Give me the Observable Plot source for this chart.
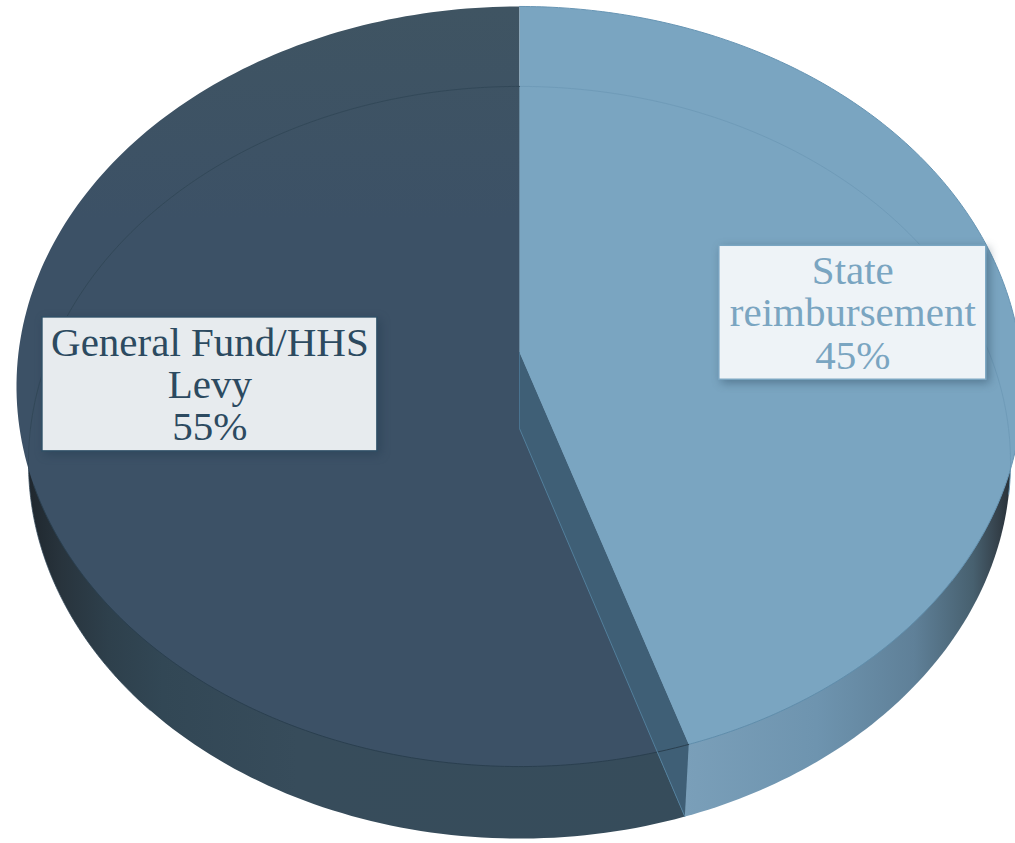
<!DOCTYPE html>
<html>
<head>
<meta charset="utf-8">
<script src="https://cdn.jsdelivr.net/npm/d3@7"></script>
<script src="https://cdn.jsdelivr.net/npm/@observablehq/plot@0.6"></script>
<style>html,body{margin:0;padding:0;background:#fff}svg{display:block}</style>
</head>
<body>
<div id="chart"></div>
<script>
const categories = ["State\nreimbursement", "General Fund/HHS\nLevy"];
const shares = [45, 55];
const shareLabels = ["45%", "55%"];

const W = 1015, H = 843;
const top3d = {cx: 519, cy: 352, a: 501, b: 377, k: -0.0895};
const low3d = {cx: 519, cy: 428, a: 489, b: 373, k: -0.0904};
const project = (e, deg, r = 1) => {
  const t = deg * Math.PI / 180, u = r * Math.sin(t), v = -r * Math.cos(t), d = 1 + e.k * v;
  return {x: e.cx + e.a * u / d, y: e.cy + e.b * v / d};
};
const arc = (e, a0, a1) => d3.range(0, 181).map((i) => project(e, a0 + (a1 - a0) * i / 180));
const total = d3.sum(shares);
const ends = d3.cumsum(shares).map((s) => s / total * 360);
const starts = [0, ...ends.slice(0, -1)];
const slice = (e, i) => [{x: e.cx, y: e.cy}, ...arc(e, starts[i], ends[i]), {x: e.cx, y: e.cy}];

const inks = ["#7aa5c1", "#2c4a60"];
const boxEdges = ["#7aa5c1", "#2f4f66"];
const boxFills = ["#eef3f7", "#e7ebee"];
const rims = ["#5f8dab", "#2a3f4f"];
const ghosts = ["#6f9bb8", "#324858"];

const face = [project(top3d, 0, 0), project(top3d, ends[0]), project(low3d, ends[0]), project(low3d, 0, 0), project(top3d, 0, 0)];

const labelPlacement = [{deg: 81, r: 0.68, w: 267, h: 134}, {deg: 262.2, r: 0.619, w: 335, h: 134}];
const labels = categories.map((c, i) => {
  const p = project(top3d, labelPlacement[i].deg, labelPlacement[i].r);
  return {text: `${c}\n${shareLabels[i]}`, x: p.x, y: p.y, w: labelPlacement[i].w, h: labelPlacement[i].h, i};
});

const poly = (pts, o) => Plot.line(pts, {x: "x", y: "y", curve: "linear", ...o});

const svg = Plot.plot({
  width: W, height: H,
  margin: 0,
  x: {domain: [0, W], range: [0, W], axis: null},
  y: {domain: [0, H], range: [0, H], axis: null},
  marks: [
    poly(slice(low3d, 0), {fill: "url(#wallLight)", stroke: "none"}),
    poly(slice(low3d, 1), {fill: "url(#wallDark)", stroke: "none"}),
    poly(slice(top3d, 1), {fill: "url(#topDark)", stroke: "none"}),
    poly(face, {fill: "#3f5f76", stroke: "none"}),
    poly(slice(top3d, 0), {fill: "#7aa5c1", stroke: "none"}),
    poly(arc(low3d, 0, 100), {stroke: ghosts[0], strokeWidth: 1}),
    poly(arc(low3d, 270, 360), {stroke: ghosts[1], strokeWidth: 1}),
    poly(arc(low3d, 225, 270), {stroke: ghosts[1], strokeWidth: 0.8}),
    poly(arc(top3d, 125, ends[0]), {stroke: rims[0], strokeWidth: 1}),
    poly(arc(top3d, ends[0], 250), {stroke: rims[1], strokeWidth: 1}),
    poly(arc(top3d, 0, 125), {stroke: "#6795b4", strokeWidth: 1}),
    poly([project(low3d, 0, 0), project(low3d, ends[0])], {stroke: "#527f9c", strokeWidth: 1}),
    poly([project(top3d, 0, 0), project(low3d, 0, 0)], {stroke: "#4a7390", strokeWidth: 1}),
    Plot.rect(labels, {
      x1: (d) => d.x - d.w / 2, x2: (d) => d.x + d.w / 2,
      y1: (d) => d.y - d.h / 2, y2: (d) => d.y + d.h / 2,
      fill: (d) => boxFills[d.i], stroke: (d) => boxEdges[d.i], strokeWidth: 1.5,
      imageFilter: "drop-shadow(3px 3px 5px rgba(30,55,75,0.4))"
    }),
    Plot.text(labels, {
      x: "x", y: "y", text: "text", fill: (d) => inks[d.i],
      fontFamily: "Liberation Serif", fontSize: 41, lineHeight: 1.03, textAnchor: "middle"
    })
  ]
});

const defs = d3.select(svg).insert("defs", ":first-child");
const grad = (id, x1, x2, y1, y2, stops) => {
  const g = defs.append("linearGradient").attr("id", id).attr("gradientUnits", "userSpaceOnUse")
    .attr("x1", x1).attr("x2", x2).attr("y1", y1).attr("y2", y2);
  stops.forEach(([o, c]) => g.append("stop").attr("offset", o).attr("stop-color", c));
};
grad("wallDark", 28, 700, 0, 0, [[0, "#1f272e"], [0.05, "#28343d"], [0.12, "#2e404c"], [0.2, "#324755"], [0.4, "#374c5b"], [1, "#364c5b"]]);
grad("wallLight", 685, 1012, 0, 0, [[0, "#7a9fb9"], [0.4, "#6e94af"], [0.7, "#5f8098"], [0.88, "#47606f"], [0.95, "#36434d"], [1, "#262e35"]]);
grad("topDark", 0, 0, 6, 220, [[0, "#3f5462"], [1, "#3c5166"]]);

document.getElementById("chart").append(svg);
</script>
</body>
</html>
